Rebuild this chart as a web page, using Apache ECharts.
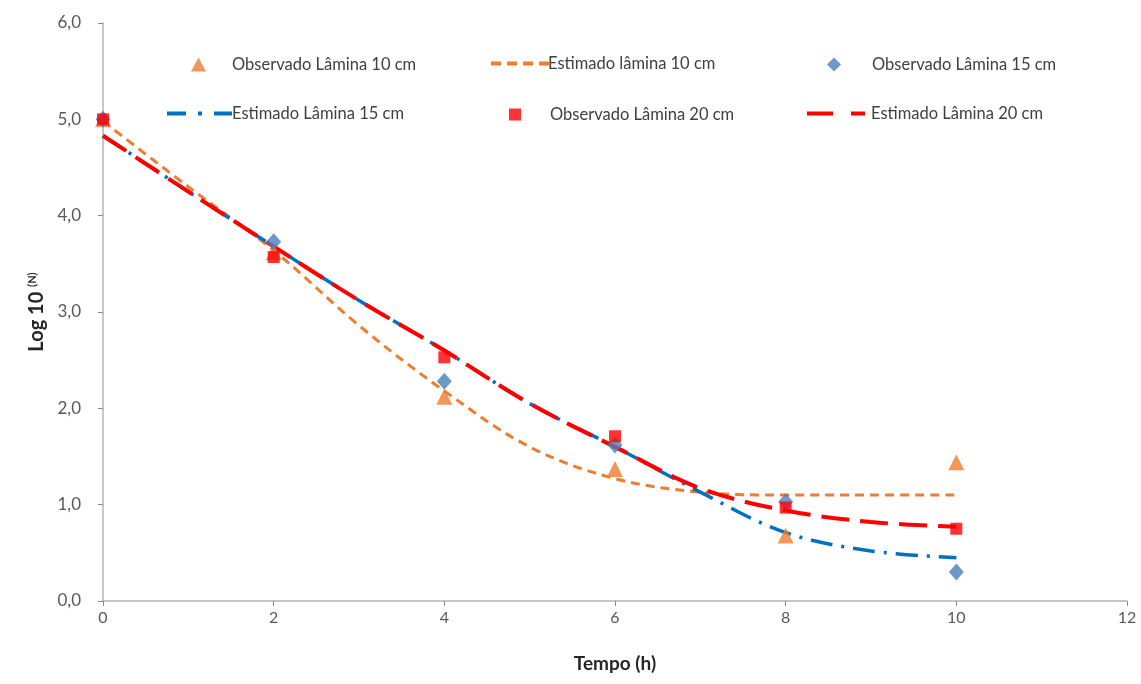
<!DOCTYPE html>
<html>
<head>
<meta charset="utf-8">
<script src="https://cdn.jsdelivr.net/npm/echarts@6/dist/echarts.min.js"></script>
<style>
  html, body { margin: 0; padding: 0; background: #fff; }
  #chart { width: 1141px; height: 684px; }
</style>
</head>
<body>
<div id="chart"></div>
<script>
// observed points (x = hours)
const obsX = [0, 2, 4, 6, 8, 10]
const obs10 = [5.0, 3.62, 2.12, 1.37, 0.68, 1.44]
const obs15 = [5.0, 3.73, 2.28, 1.62, 1.03, 0.30]
const obs20 = [5.0, 3.57, 2.53, 1.71, 0.97, 0.75]

// fitted curves, read at each hour
const estX = [0, 1, 2, 3, 4, 5, 6, 7, 8, 9, 10]
const est10 = [4.98, 4.30, 3.64, 2.86, 2.18, 1.60, 1.27, 1.13, 1.10, 1.10, 1.10]
const est15 = [4.83, 4.25, 3.68, 3.12, 2.60, 2.05, 1.60, 1.13, 0.71, 0.52, 0.45]
const est20 = [4.83, 4.25, 3.68, 3.12, 2.60, 2.05, 1.60, 1.17, 0.94, 0.82, 0.77]

const yTicks = ['0,0', '1,0', '2,0', '3,0', '4,0', '5,0', '6,0']

const names = [
  'Observado Lâmina 10 cm',
  'Estimado lâmina 10 cm',
  'Observado Lâmina 15 cm',
  'Estimado Lâmina 15 cm',
  'Observado Lâmina 20 cm',
  'Estimado Lâmina 20 cm',
]

// legend icons for the dashed lines (drawn as little bars)
const dashIcon10 = 'path://M0 0h10v4h-10zM16 0h10v4h-10zM32 0h10v4h-10zM48 0h10v4h-10z'
const dashIcon15 = 'path://M0 0h19v4h-19zM31 0h4v4h-4zM47 0h18v4h-18z'
const dashIcon20 = 'path://M0 0h26v4h-26zM44 0h14v4h-14z'

const pairs = (xs, ys) => xs.map((x, i) => [x, ys[i]])
const font = 'Lato, "Open Sans", sans-serif'
const legendText = { fontFamily: font, fontSize: 16.5, color: '#404040' }

function legendItem(name, left, top, w, h, pad, icon) {
  return {
    data: [icon ? { name: name, icon: icon } : name],
    left: left,
    top: top,
    itemWidth: w,
    itemHeight: h,
    selectedMode: false,
    textStyle: Object.assign({}, legendText, { padding: [0, 0, 0, pad] }),
  }
}

const chart = echarts.init(document.getElementById('chart'))
chart.setOption({
  backgroundColor: '#fff',
  animation: false,
  legend: [
    legendItem(names[0], 186, 51, 15, 14, 21),
    legendItem(names[1], 486, 50, 58, 4, -6, dashIcon10),
    legendItem(names[2], 822, 51, 14, 14, 26),
    legendItem(names[3], 162, 100, 65, 4, -5, dashIcon15),
    legendItem(names[4], 504, 101, 12, 12, 24),
    legendItem(names[5], 802, 100, 58, 4, 1, dashIcon20),
  ],
  grid: { left: 103, right: 14, top: 23, bottom: 83 },
  xAxis: {
    type: 'value',
    min: 0,
    max: 12,
    interval: 2,
    name: 'Tempo (h)',
    nameLocation: 'middle',
    nameGap: 53,
    nameTextStyle: { fontFamily: font, fontSize: 19, fontWeight: 'bold', color: '#262626' },
    axisLine: { lineStyle: { color: '#b3b3b3', width: 1.5 } },
    axisTick: { show: true, length: 5, lineStyle: { color: '#8c8c8c' } },
    axisLabel: { fontFamily: font, fontSize: 16, color: '#595959', margin: 9 },
    splitLine: { show: false },
  },
  yAxis: {
    type: 'value',
    min: 0,
    max: 6,
    interval: 1,
    name: '{a|Log 10 }{b|(N)}',
    nameLocation: 'middle',
    nameGap: 56,
    nameTextStyle: {
      rich: {
        a: { fontFamily: font, fontSize: 20, fontWeight: 'bold', color: '#262626' },
        b: { fontFamily: font, fontSize: 11, fontWeight: 'bold', color: '#262626', verticalAlign: 'top', padding: [0, 0, 8, 0] },
      },
    },
    axisLine: { show: true, lineStyle: { color: '#b3b3b3', width: 1.5 } },
    axisTick: { show: true, length: 5, lineStyle: { color: '#8c8c8c' } },
    axisLabel: {
      fontFamily: font,
      fontSize: 17,
      color: '#595959',
      margin: 22,
      formatter: (v) => yTicks[Math.round(v)],
    },
    splitLine: { show: false },
  },
  series: [
    {
      name: names[0],
      type: 'scatter',
      data: pairs(obsX, obs10),
      symbol: 'triangle',
      symbolSize: 16,
      itemStyle: { color: '#ED7D31' },
      z: 3,
    },
    {
      name: names[1],
      type: 'line',
      data: pairs(estX, est10),
      smooth: 0.35,
      symbol: 'none',
      lineStyle: { color: '#ED7D31', width: 3, type: [9, 6] },
      itemStyle: { color: '#ED7D31' },
      z: 2,
    },
    {
      name: names[2],
      type: 'scatter',
      data: pairs(obsX, obs15),
      symbol: 'diamond',
      symbolSize: [15, 17],
      itemStyle: { color: '#4A7EBB' },
      z: 3,
    },
    {
      name: names[3],
      type: 'line',
      data: pairs(estX, est15),
      smooth: 0.35,
      symbol: 'none',
      lineStyle: { color: '#0070C0', width: 3.5, type: [22, 9, 3, 9] },
      itemStyle: { color: '#0070C0' },
      z: 2,
    },
    {
      name: names[4],
      type: 'scatter',
      data: pairs(obsX, obs20),
      symbol: 'rect',
      symbolSize: 12,
      itemStyle: { color: '#FF0000' },
      z: 4,
    },
    {
      name: names[5],
      type: 'line',
      data: pairs(estX, est20),
      smooth: 0.35,
      symbol: 'none',
      lineStyle: { color: '#FF0000', width: 4, type: [28, 11] },
      itemStyle: { color: '#FF0000' },
      z: 2,
    },
  ],
})
</script>
</body>
</html>
